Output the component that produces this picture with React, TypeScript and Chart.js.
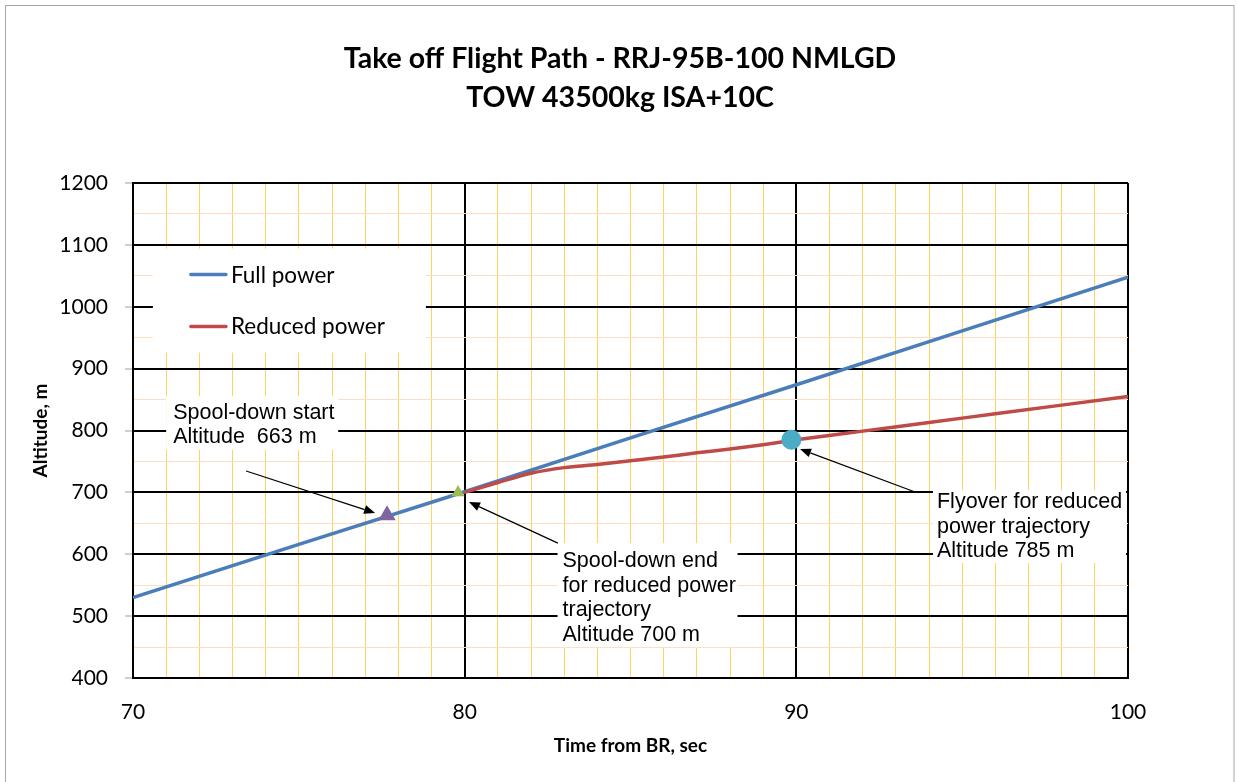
import { useEffect, useRef } from "react";
import { Chart, registerables } from "chart.js";

Chart.register(...registerables);

// Axis ranges and gridline steps (time from brake release, s / altitude, m)
const timeRange = [70, 100];
const timeMajorStep = 10;
const timeMinorStep = 1;
const altitudeRange = [400, 1200];
const altitudeMajorStep = 100;
const altitudeMinorStep = 50;

// Full-power climb
const fullPowerTime = [70, 75, 80, 85, 90, 95, 100];
const fullPowerAltitude = [530, 616, 701, 788, 874, 961, 1048];

// Reduced-power branch after the spool-down
const reducedTime = [80, 81, 82, 83, 84, 85, 86, 87, 88, 89, 90, 92, 94, 96, 98, 100];
const reducedAltitude = [700, 716, 731, 740, 745, 751, 757, 764, 770, 777, 785, 799, 813, 827, 841, 855];

// Event markers: spool-down start, spool-down end, flyover
const eventTime = [77.66, 79.8, 89.85];
const eventAltitude = [663, 700, 785];

const titleLines = ["Take off Flight Path - RRJ-95B-100 NMLGD", "TOW 43500kg ISA+10C"];
const seriesNames = ["Full power", "Reduced power"];
const xAxisTitle = "Time from BR, sec";
const yAxisTitle = "Altitude, m";

const calloutStart = ["Spool-down start", "Altitude  663 m"];
const calloutEnd = ["Spool-down end", "for reduced power", "trajectory", "Altitude 700 m"];
const calloutFlyover = ["Flyover for reduced", "power trajectory", "Altitude 785 m"];

const BLUE = "#4A7EBB";
const RED = "#BE4B48";
const PURPLE = "#8064A2";
const GREEN = "#9BBB59";
const CYAN = "#4BACC6";

const SANS = "Lato, 'Open Sans', sans-serif";
const ARIAL = "'Liberation Sans', Arial, sans-serif";

function drawArrow(ctx: CanvasRenderingContext2D, x1: number, y1: number, x2: number, y2: number) {
  const ang = Math.atan2(y2 - y1, x2 - x1);
  const headLen = 11;
  const headHalf = 4.5;
  const bx = x2 - headLen * Math.cos(ang);
  const by = y2 - headLen * Math.sin(ang);
  ctx.beginPath();
  ctx.moveTo(x1, y1);
  ctx.lineTo(bx, by);
  ctx.lineWidth = 1.2;
  ctx.strokeStyle = "#000";
  ctx.stroke();
  ctx.beginPath();
  ctx.moveTo(x2, y2);
  ctx.lineTo(bx + headHalf * Math.sin(ang), by - headHalf * Math.cos(ang));
  ctx.lineTo(bx - headHalf * Math.sin(ang), by + headHalf * Math.cos(ang));
  ctx.closePath();
  ctx.fillStyle = "#000";
  ctx.fill();
}

// White text box anchored at a (time, altitude) corner
function drawCallout(
  ctx: CanvasRenderingContext2D,
  chart: any,
  t: number,
  alt: number,
  w: number,
  h: number,
  lines: string[],
  padX: number,
  firstBase: number,
  lineGap: number
) {
  const x = chart.scales.x.getPixelForValue(t);
  const y = chart.scales.y.getPixelForValue(alt);
  ctx.fillStyle = "#fff";
  ctx.fillRect(x, y, w, h);
  ctx.fillStyle = "#000";
  ctx.font = `21.5px ${ARIAL}`;
  ctx.textAlign = "left";
  ctx.textBaseline = "alphabetic";
  lines.forEach((s, i) => ctx.fillText(s, x + padX, y + firstBase + i * lineGap));
}

const decorPlugin = {
  id: "decor",
  beforeDraw(chart: any) {
    const ctx: CanvasRenderingContext2D = chart.ctx;
    ctx.save();
    ctx.fillStyle = "#fff";
    ctx.fillRect(0, 0, chart.width, chart.height);
    ctx.strokeStyle = "#A6A6A6";
    ctx.lineWidth = 1;
    ctx.strokeRect(5.5, 5.5, 1228.5, 900);
    ctx.fillStyle = "#000";
    ctx.font = `bold 28.5px ${SANS}`;
    ctx.textAlign = "center";
    ctx.textBaseline = "alphabetic";
    ctx.fillText(titleLines[0], 620, 68);
    ctx.fillText(titleLines[1], 620, 107);
    ctx.restore();
  },
  beforeDatasetsDraw(chart: any) {
    const ctx: CanvasRenderingContext2D = chart.ctx;
    const sx = chart.scales.x;
    const sy = chart.scales.y;
    ctx.save();
    // legend panel
    const lx = sx.getPixelForValue(70.6);
    const ly = sy.getPixelForValue(1094);
    ctx.fillStyle = "#fff";
    ctx.fillRect(lx, ly, 273, 104);
    [BLUE, RED].forEach((c, i) => {
      const yy = ly + 26 + i * 52;
      ctx.beginPath();
      ctx.moveTo(lx + 38, yy);
      ctx.lineTo(lx + 73, yy);
      ctx.strokeStyle = c;
      ctx.lineWidth = 3.5;
      ctx.lineCap = "round";
      ctx.stroke();
      ctx.fillStyle = "#000";
      ctx.font = `22.5px ${SANS}`;
      ctx.textAlign = "left";
      ctx.textBaseline = "alphabetic";
      ctx.fillText(seriesNames[i], lx + 78, ly + 34 + i * 51);
    });
    ctx.lineCap = "butt";
    drawCallout(ctx, chart, 71.0, 856, 172, 54, calloutStart, 7, 23, 24);
    drawCallout(ctx, chart, 82.8, 618, 180, 104, calloutEnd, 5, 24, 24.6);
    drawCallout(ctx, chart, 94.12, 704, 193, 73, calloutFlyover, 4, 18.5, 24.4);
    ctx.restore();
  },
  afterDatasetsDraw(chart: any) {
    const ctx: CanvasRenderingContext2D = chart.ctx;
    const sx = chart.scales.x;
    const sy = chart.scales.y;
    const px = (t: number) => sx.getPixelForValue(t);
    const py = (a: number) => sy.getPixelForValue(a);
    ctx.save();
    drawArrow(ctx, px(73.41), py(734.5), px(77.3), py(666.7));
    drawArrow(ctx, px(82.81), py(618), px(80.13), py(684.5));
    drawArrow(ctx, px(93.58), py(700.6), px(90.11), py(770));
    ctx.restore();
  },
};

export default function App() {
  const canvasRef = useRef<HTMLCanvasElement | null>(null);

  useEffect(() => {
    document.body.style.margin = "0";
    const canvas = canvasRef.current;
    if (!canvas) return;

    const isMajorX = (v: number) => Math.abs(v % timeMajorStep) < 1e-6;
    const isMajorY = (v: number) => Math.abs(v % altitudeMajorStep) < 1e-6;

    const chart = new Chart(canvas, {
      type: "scatter",
      data: {
        datasets: [
          {
            label: "events",
            data: eventTime.map((t, i) => ({ x: t, y: eventAltitude[i] })),
            showLine: false,
            pointStyle: ["triangle", "triangle", "circle"],
            pointRadius: [10, 7.5, 10],
            pointBackgroundColor: [PURPLE, GREEN, CYAN],
            pointBorderColor: [PURPLE, GREEN, CYAN],
            pointBorderWidth: 0,
          } as any,
          {
            label: seriesNames[1],
            data: reducedTime.map((t, i) => ({ x: t, y: reducedAltitude[i] })),
            showLine: true,
            borderColor: RED,
            borderWidth: 3.5,
            pointRadius: 0,
            cubicInterpolationMode: "monotone",
          },
          {
            label: seriesNames[0],
            data: fullPowerTime.map((t, i) => ({ x: t, y: fullPowerAltitude[i] })),
            showLine: true,
            borderColor: BLUE,
            borderWidth: 3.5,
            pointRadius: 0,
          },
        ],
      },
      options: {
        animation: false,
        responsive: false,
        devicePixelRatio: 1,
        layout: { padding: { top: 183, left: 0, right: 109, bottom: 0 } },
        plugins: {
          legend: { display: false },
          tooltip: { enabled: false },
          title: { display: false },
        },
        scales: {
          x: {
            type: "linear",
            min: timeRange[0],
            max: timeRange[1],
            afterFit: (scale: any) => {
              scale.height = 104;
            },
            ticks: {
              stepSize: timeMinorStep,
              autoSkip: false,
              maxRotation: 0,
              padding: 22,
              color: "#000",
              font: { family: SANS, size: 21 },
              callback: (v: any) => (isMajorX(Number(v)) ? String(v) : ""),
            },
            grid: {
              drawTicks: false,
              color: (c: any) => (isMajorX(c.tick.value) ? "#000" : "#FFD45C"),
              lineWidth: (c: any) => (isMajorX(c.tick.value) ? 2 : 1),
            },
            border: { color: "#000", width: 2 },
            title: {
              display: true,
              text: xAxisTitle,
              color: "#000",
              font: { family: SANS, size: 19, weight: "bold" },
              padding: { top: 0, bottom: 25 },
            },
          },
          y: {
            type: "linear",
            min: altitudeRange[0],
            max: altitudeRange[1],
            afterFit: (scale: any) => {
              scale.width = 133;
            },
            ticks: {
              stepSize: altitudeMinorStep,
              autoSkip: false,
              padding: 17,
              color: "#000",
              font: { family: SANS, size: 21 },
              callback: (v: any) => (isMajorY(Number(v)) ? String(v) : ""),
            },
            grid: {
              drawTicks: true,
              tickLength: 8,
              tickWidth: 1,
              tickColor: (c: any) => (isMajorY(c.tick.value) ? "#A0A0A0" : "rgba(0,0,0,0)"),
              color: (c: any) => (isMajorY(c.tick.value) ? "#000" : "#FDDCC2"),
              lineWidth: (c: any) => (isMajorY(c.tick.value) ? 2 : 1),
            },
            border: { color: "#000", width: 2 },
            title: {
              display: true,
              text: yAxisTitle,
              color: "#000",
              font: { family: SANS, size: 19, weight: "bold" },
              padding: { top: 29, bottom: 0 },
            },
          },
        },
      },
      plugins: [decorPlugin],
    });

    return () => chart.destroy();
  }, []);

  return (
    <div style={{ position: "fixed", left: 0, top: 0, width: 1237, height: 782, background: "#fff" }}>
      <canvas ref={canvasRef} width={1237} height={782} />
    </div>
  );
}
